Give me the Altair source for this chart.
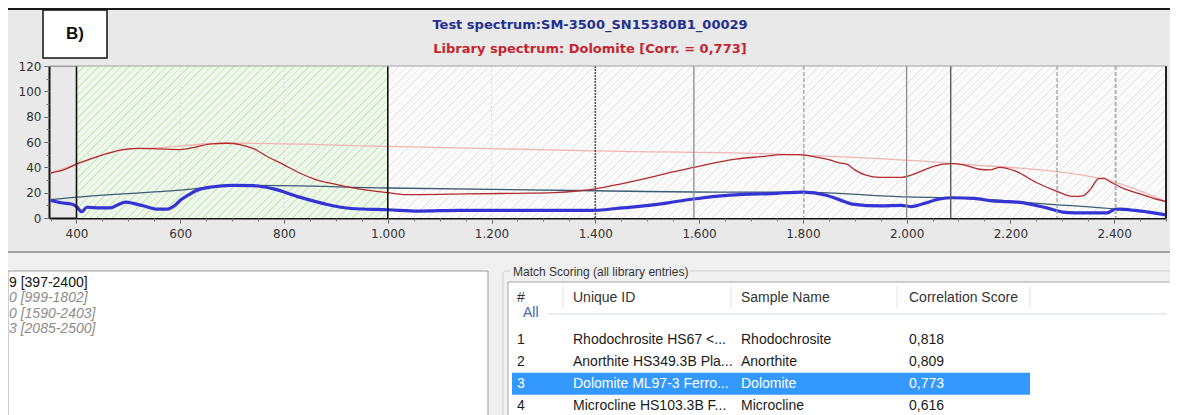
import altair as alt
import pandas as pd

# ---------------- data ----------------
red_wl = [350, 375, 400, 430, 460, 490, 520, 560, 600, 630, 660, 690, 715, 740, 770, 800, 830, 860, 900,
          930, 960, 1000, 1030, 1060, 1150, 1250, 1320, 1370, 1400, 1450, 1500, 1550, 1590, 1630, 1670,
          1720, 1760, 1790, 1820, 1850, 1870, 1885, 1900, 1920, 1950, 1990, 2010, 2040, 2070, 2090, 2110,
          2140, 2160, 2180, 2210, 2250, 2290, 2320, 2340, 2355, 2370, 2380, 2395, 2420, 2450, 2480, 2500]
red_val = [35.5, 38, 42.5, 47, 51, 54, 55, 54.5, 54, 56, 58.5, 59, 58, 55, 48, 42, 35.5, 30.5, 26.5,
           24, 22, 20, 18.5, 18.5, 19, 19.5, 20, 21.5, 23, 27, 31.5, 36.5, 40, 43.5, 46.5,
           48.5, 50, 50, 48.5, 46, 43.5, 42.5, 38, 34, 32, 32, 34, 39, 42.5, 43, 42,
           38.5, 38, 40, 37, 28, 21, 17, 17.5, 23, 31, 31.5, 28, 23, 19, 15, 13]

red_hull_wl = [350, 400, 490, 560, 680, 720, 1000, 1400, 1780, 2090, 2370, 2500]
red_hull_val = [35.5, 42.5, 54, 55.5, 59, 59, 56.5, 53, 50, 43, 31.5, 13]

blue_wl = [350, 370, 390, 400, 410, 420, 445, 465, 480, 495, 510, 530, 555, 575, 590, 600, 615, 630, 660,
           700, 740, 780, 830, 880, 930, 1000, 1060, 1140, 1200, 1300, 1400, 1440, 1480, 1540, 1590,
           1660, 1750, 1800, 1845, 1870, 1895, 1950, 1990, 2010, 2030, 2063, 2090, 2130, 2165, 2215,
           2270, 2305, 2340, 2385, 2400, 2410, 2440, 2470, 2500]
blue_val = [14, 12, 11, 9, 5, 8.5, 8, 8, 10.5, 12.5, 11.5, 9.5, 7, 7, 10, 14, 18, 21.5, 24.5,
            25.7, 25.5, 23, 16.5, 11, 7.5, 6.5, 5.5, 6, 6, 6, 6, 7.5, 9, 12, 15,
            18, 19.5, 20.5, 18, 14.5, 11, 9.5, 10, 9, 11, 15, 16, 15.5, 13.5, 12.5,
            8, 4.5, 4, 4, 6.5, 7, 6, 4.5, 2.5]

blue_hull_wl = [350, 400, 600, 700, 740, 1000, 1400, 1640, 1800, 2000, 2090, 2270, 2403, 2500]
blue_hull_val = [14.5, 16.5, 22, 25.7, 25.7, 23.7, 21.5, 20.5, 20.5, 16.6, 16, 11, 7, 2.5]

active_range = [400, 1000]
full_range = [400, 2500]
faint_grid = [600, 800, 1200]
solid_black = [400, 1000]
dashed_dark = [1400]
solid_gray = [1590, 2000]
solid_dark = [2085]
dashed_gray = [1802, 2290]
dashed_light = [2403]
x_ticks = [400, 600, 800, 1000, 1200, 1400, 1600, 1800, 2000, 2200, 2400]
x_minor = list(range(350, 2501, 50))
y_ticks = [0, 20, 40, 60, 80, 100, 120]
y_minor = list(range(0, 121, 10))

title_test = "Test spectrum:SM-3500_SN15380B1_00029"
title_lib = "Library spectrum: Dolomite [Corr. = 0,773]"
panel_label = "B)"

range_lines = ["9 [397-2400]", "0 [999-1802]", "0 [1590-2403]", "3 [2085-2500]"]

group_title = "Match Scoring (all library entries)"
headers = ["#", "Unique ID", "Sample Name", "Correlation Score"]
row_num = ["1", "2", "3", "4"]
row_uid = ["Rhodochrosite HS67 <...", "Anorthite HS349.3B Pla...", "Dolomite ML97-3 Ferro...",
           "Microcline HS103.3B F..."]
row_name = ["Rhodochrosite", "Anorthite", "Dolomite", "Microcline"]
row_score = ["0,818", "0,809", "0,773", "0,616"]
selected_row = 3

# ---------------- layout constants ----------------
W, H = 1117, 152
X_DOM = [347, 2500]
PX_PER_UNIT = W / (X_DOM[1] - X_DOM[0])
AX_FONT = "DejaVu Sans"
UI_FONT = "Liberation Sans"
RIGHT = W + 4  # right edge of canvas in view coordinates

xs = alt.Scale(domain=X_DOM, nice=False, zero=False)
ys = alt.Scale(domain=[0, 120], nice=False, zero=False)


def hatch(w, h, bg, fg, period=7.5, lw=1.4):
    total = w + h
    k = total / (w + h * h / w)
    stops = []
    s = 0.0
    while s < total:
        a = s / total
        b = min((s + lw) / total, 1.0)
        c = min((s + period) / total, 1.0)
        stops += [{"offset": a, "color": fg}, {"offset": b, "color": fg},
                  {"offset": b, "color": bg}, {"offset": c, "color": bg}]
        s += period
    return {"gradient": "linear", "x1": 0, "y1": 0, "x2": k, "y2": k * h / w, "stops": stops}


one = pd.DataFrame({"a": [0]})

# ---------------- spectrum ----------------
rng_full = pd.DataFrame({"x0": [full_range[0]], "x1": [full_range[1]]})
rng_act = pd.DataFrame({"x0": [active_range[0]], "x1": [active_range[1]]})

gray_w = (full_range[1] - full_range[0]) * PX_PER_UNIT
green_w = (active_range[1] - active_range[0]) * PX_PER_UNIT

hatch_gray = alt.Chart(rng_full).mark_rect(fill=hatch(gray_w, H, "#fbfbfb", "#ececec")).encode(
    x=alt.X("x0:Q", scale=xs, axis=None), x2="x1:Q")
hatch_green = alt.Chart(rng_act).mark_rect(fill=hatch(green_w, H, "#eef8ea", "#cde9c4")).encode(
    x=alt.X("x0:Q", scale=xs, axis=None), x2="x1:Q")


def vrules(vals, color, width, dash=None):
    kw = dict(color=color, strokeWidth=width)
    if dash:
        kw["strokeDash"] = dash
    return alt.Chart(pd.DataFrame({"wl": vals})).mark_rule(**kw).encode(
        x=alt.X("wl:Q", scale=xs, axis=None))


def curve(wl, val, color, width):
    return alt.Chart(pd.DataFrame({"wl": wl, "val": val})).mark_line(
        color=color, strokeWidth=width, interpolate="monotone").encode(
        x=alt.X("wl:Q", scale=xs, axis=None), y=alt.Y("val:Q", scale=ys, axis=None))


grid = vrules(faint_grid, "#d9e3d6", 1, [2, 2])
r_black = vrules(solid_black, "#111111", 1.6)
r_ddark = vrules(dashed_dark, "#555555", 1.6, [2, 1])
r_sgray = vrules(solid_gray, "#8c8c8c", 1.3)
r_sdark = vrules(solid_dark, "#5a5a5a", 1.4)
r_dgray = vrules(dashed_gray, "#9a9a9a", 1.2, [4, 2])
r_dlight = vrules(dashed_light, "#b0b0b0", 2, [4, 2])

red_hull = curve(red_hull_wl, red_hull_val, "#f1b4b4", 1.3)
blue_hull = curve(blue_hull_wl, blue_hull_val, "#3c5c74", 1.3)
red_line = curve(red_wl, red_val, "#b3292c", 1.3)

lbl_expr = "replace(format(datum.value, ','), ',', '.')"
blue_line = alt.Chart(pd.DataFrame({"wl": blue_wl, "val": blue_val})).mark_line(
    color="#3434d4", strokeWidth=3.2, interpolate="monotone").encode(
    x=alt.X("wl:Q", scale=xs, axis=alt.Axis(
        values=x_ticks, labelExpr=lbl_expr, orient="bottom", title=None, grid=False,
        tickSize=5, tickColor="#555555", domainColor="#111111", domainWidth=2,
        labelFont=AX_FONT, labelFontSize=12, labelColor="#333333", labelPadding=5)),
    y=alt.Y("val:Q", scale=ys, axis=alt.Axis(
        values=y_ticks, orient="left", title=None, grid=False,
        tickSize=5, tickColor="#555555", domainColor="#111111", domainWidth=2,
        labelFont=AX_FONT, labelFontSize=12, labelColor="#333333", labelPadding=3)))

minor_axes = alt.Chart(pd.DataFrame({"wl": x_minor[:len(y_minor)], "val": y_minor})).mark_point(
    opacity=0).encode(
    x=alt.X("wl:Q", scale=xs, axis=alt.Axis(
        values=x_minor, labels=False, orient="bottom", title=None, grid=False, domain=False,
        tickSize=3, tickColor="#777777")),
    y=alt.Y("val:Q", scale=ys, axis=alt.Axis(
        values=y_minor, labels=False, orient="left", title=None, grid=False, domain=False,
        tickSize=3, tickColor="#777777")))

right_edge = alt.Chart(pd.DataFrame({"wl": [X_DOM[1]]})).mark_rule(
    color="#222222", strokeWidth=2).encode(x=alt.X("wl:Q", scale=xs, axis=None))

spectrum = alt.layer(
    hatch_gray, hatch_green, grid, red_hull, blue_hull, red_line, blue_line,
    r_black, r_ddark, r_sgray, r_sdark, r_dgray, r_dlight, right_edge, minor_axes
).resolve_axis(x="independent", y="independent")

# ---------------- UI chrome (fixed layout) ----------------
def box(x, x2, y, y2, fill, stroke=None, sw=1, radius=0):
    kw = dict(fill=fill)
    if stroke:
        kw.update(stroke=stroke, strokeWidth=sw)
    if radius:
        kw["cornerRadius"] = radius
    return alt.Chart(one).mark_rect(**kw).encode(
        x=alt.value(x), x2=alt.value(x2), y=alt.value(y), y2=alt.value(y2))


def hline(x, x2, y, color, sw=1):
    return alt.Chart(one).mark_rule(color=color, strokeWidth=sw).encode(
        x=alt.value(x), x2=alt.value(x2), y=alt.value(y))


def vline(x, y, y2, color, sw=1):
    return alt.Chart(one).mark_rule(color=color, strokeWidth=sw).encode(
        x=alt.value(x), y=alt.value(y), y2=alt.value(y2))


def label(txt, x, y, color, size, font, weight="normal", align="left", style="normal"):
    return alt.Chart(pd.DataFrame({"t": [txt]})).mark_text(
        align=align, baseline="middle", color=color, fontSize=size, font=font,
        fontWeight=weight, fontStyle=style).encode(
        x=alt.value(x), y=alt.value(y), text="t:N")


top_border = hline(-41, RIGHT, -57, "#1a1a1a", 2)
bottom_bg = box(-41, RIGHT, 187, 360, "#f0f0f0")
sep_line = hline(-41, RIGHT, 186, "#8a8a8a", 1.5)
plot_top = hline(0, W, 0, "#a0a0a0", 1)

b_box = box(-6, 58, -56, -8, "#ffffff", "#111111", 1.5)
b_txt = label(panel_label, 26, -32, "#111111", 17, UI_FONT, "bold", "center")
t1 = label(title_test, 541, -41, "#23308f", 13, AX_FONT, "bold", "center")
t2 = label(title_lib, 541, -17, "#c4242f", 13, AX_FONT, "bold", "center")

left_box = box(-41, 439, 205, 365, "#ffffff", "#9a9a9a", 1)
group_box = box(454, RIGHT + 10, 205, 370, "#f0f0f0", "#cfcfcf", 1, 3)
group_cover = box(461, 641, 198, 212, "#f0f0f0")
group_lbl = label(group_title, 464, 206, "#333333", 12, UI_FONT)
list_box = box(459, RIGHT + 10, 216, 365, "#ffffff", "#a8a8a8", 1)

col_x = [468, 524, 692, 860]
hdr_y = 232
hdr_layers = [label(h, cx, hdr_y, "#333333", 14, UI_FONT) for h, cx in zip(headers, col_x)]
hdr_seps = [vline(sx, 220, 242, "#e2e2e2") for sx in [514, 682, 848, 981]]
all_lbl = label("All", 474, 247, "#3b6bb0", 14, UI_FONT)
all_line = hline(498, 1117, 248, "#d3dbe6")

# ---------------- left range list ----------------
rl = pd.DataFrame({"row": [1, 2, 3, 4], "t": range_lines, "first": [True, False, False, False]})
rl_y = alt.Y("row:O", scale=alt.Scale(type="band", domain=[1, 2, 3, 4], range=[209.5, 270.5],
                                      paddingInner=0, paddingOuter=0), axis=None)
rl_first = alt.Chart(rl).transform_filter("datum.first").mark_text(
    align="left", baseline="middle", fontSize=14, font=UI_FONT, color="#111111").encode(
    x=alt.value(-40), y=rl_y, text="t:N")
rl_rest = alt.Chart(rl).transform_filter("!datum.first").mark_text(
    align="left", baseline="middle", fontSize=14, font=UI_FONT, color="#8c8c8c",
    fontStyle="italic").encode(x=alt.value(-40), y=rl_y, text="t:N")
range_group = alt.layer(rl_first, rl_rest)

# ---------------- table ----------------
tb = pd.DataFrame({"row": [1, 2, 3, 4], "num": row_num, "uid": row_uid, "name": row_name,
                   "score": row_score})
tb["sel"] = tb["row"] == selected_row
tb_y = alt.Y("row:O", scale=alt.Scale(type="band", domain=[1, 2, 3, 4], range=[263, 350.5],
                                      paddingInner=0, paddingOuter=0), axis=None)
hl = alt.Chart(tb).transform_filter("datum.sel").mark_rect(color="#3399ff").encode(
    x=alt.value(463), x2=alt.value(981), y=tb_y)
txt_color = alt.condition("datum.sel", alt.value("#ffffff"), alt.value("#1a1a1a"))
tb_layers = [hl] + [
    alt.Chart(tb).mark_text(align="left", baseline="middle", fontSize=14, font=UI_FONT).encode(
        x=alt.value(cx), y=tb_y, text=f"{c}:N", color=txt_color)
    for c, cx in zip(["num", "uid", "name", "score"], col_x)
]
table_group = alt.layer(*tb_layers)

chart = alt.layer(
    bottom_bg, sep_line, top_border, spectrum, plot_top,
    b_box, b_txt, t1, t2,
    left_box, range_group,
    group_box, group_cover, group_lbl, list_box,
    *hdr_seps, *hdr_layers, all_line, all_lbl,
    table_group,
).resolve_scale(x="independent", y="independent").properties(
    width=W, height=H,
    padding={"left": 41, "top": 58, "right": 4, "bottom": 197},
    autosize=alt.AutoSizeParams(type="none"),
    background="#e9e9e9",
).configure_view(stroke="#a0a0a0", strokeWidth=1)

chart.save("out.html", embed_options={"renderer": "svg", "actions": False})
